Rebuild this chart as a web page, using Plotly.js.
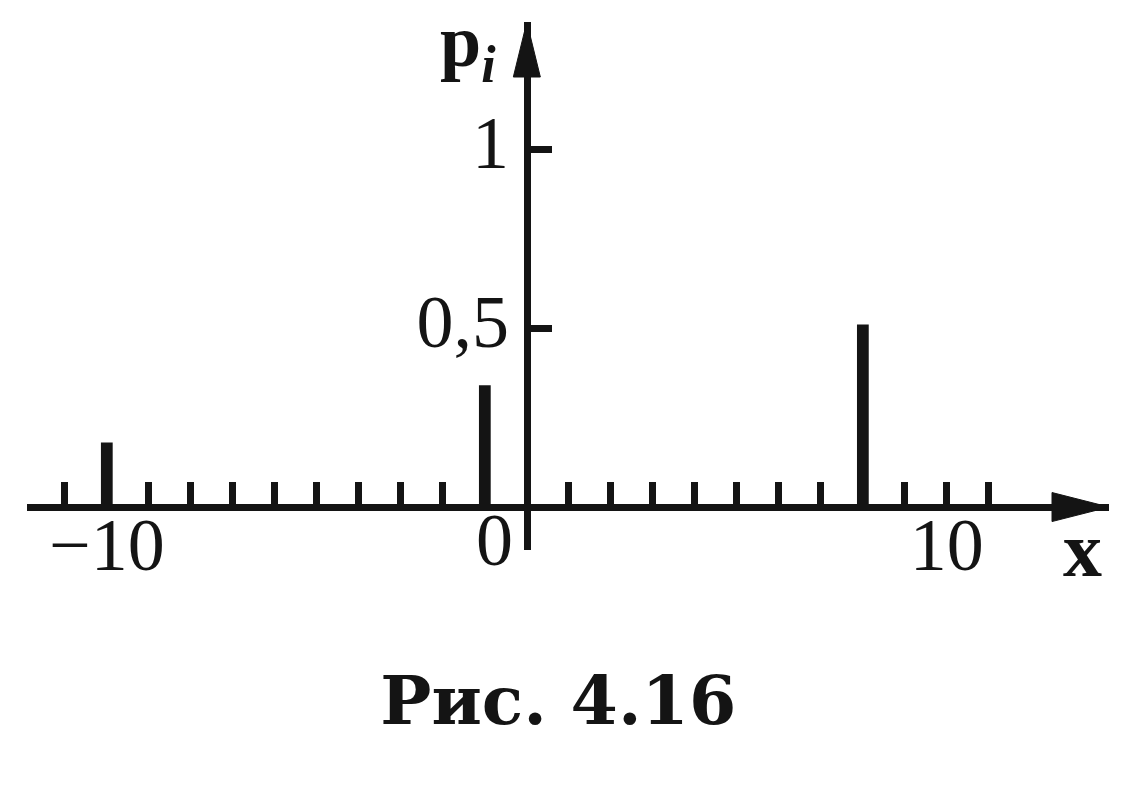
<!DOCTYPE html>
<html>
<head>
<meta charset="utf-8">
<script src="https://cdn.plot.ly/plotly-3.0.1.min.js"></script>
<style>
  html, body { margin: 0; padding: 0; background: #fff; }
  #chart { width: 1144px; height: 808px; }
</style>
</head>
<body>
<div id="chart"></div>
<script>
// values of the random variable and their probabilities
let xValues = [-10, -1, 8];
let probs = [0.18, 0.34, 0.51];

// labelled ticks
let xTickVals = [-10, 10];
let xTickText = ["\u221210", "10"];
let yTickVals = [0.5, 1];
let yTickText = ["0,5", "1"];
// unit marks along the x axis
let xUnitTicks = [-11, -9, -8, -7, -6, -5, -4, -3, -2, -1, 1, 2, 3, 4, 5, 6, 7, 8, 9, 11];

let xRange = [-11.9, 13.86];
let yRange = [-0.12, 1.355];

let ink = "#141414";
let serif = "Liberation Serif, Times New Roman, serif";
let slab = "DejaVu Serif, serif";

let trace1 = {
	type: "bar",
	x: xValues,
	y: probs,
	width: 0.28,
	marker: {color: ink, line: {width: 0}},
	hoverinfo: "x+y"
};

let xPos = (0 - yRange[0]) / (yRange[1] - yRange[0]);
let yPos = (0 - xRange[0]) / (xRange[1] - xRange[0]);

let layout = {
	width: 1144,
	height: 808,
	margin: {l: 27, r: 35, t: 22, b: 258},
	paper_bgcolor: "#fff",
	plot_bgcolor: "#fff",
	showlegend: false,
	title: {
		text: "<b>Рис.\u00a04.16</b>",
		font: {family: slab, size: 68, color: ink},
		x: 0.488, xref: "container", xanchor: "center",
		y: 0.134, yref: "container", yanchor: "middle"
	},
	xaxis: {
		range: xRange,
		anchor: "free",
		position: xPos,
		showgrid: false,
		zeroline: false,
		showline: true,
		linecolor: ink,
		linewidth: 7,
		tickmode: "array",
		tickvals: xTickVals,
		ticktext: xTickText,
		ticks: "inside",
		ticklen: 22,
		tickwidth: 7,
		tickcolor: ink,
		ticklabelstandoff: -30,
		tickfont: {family: serif, size: 74, color: ink},
		minor: {
			tickmode: "array", tickvals: xUnitTicks,
			ticks: "inside", ticklen: 22, tickwidth: 7, tickcolor: ink,
			showgrid: false
		},
		fixedrange: true
	},
	yaxis: {
		range: yRange,
		anchor: "free",
		position: yPos,
		showgrid: false,
		zeroline: false,
		showline: true,
		linecolor: ink,
		linewidth: 7,
		tickmode: "array",
		tickvals: yTickVals,
		ticktext: yTickText,
		ticks: "inside",
		ticklen: 21,
		tickwidth: 7,
		tickcolor: ink,
		ticklabelshift: -7,
		tickfont: {family: serif, size: 74, color: ink},
		fixedrange: true
	},
	shapes: [
		{ // arrow on x axis
			type: "path", xref: "x", yref: "y",
			xsizemode: "pixel", ysizemode: "pixel",
			xanchor: xRange[1], yanchor: 0,
			path: "M -57,-14.5 L 0,0 L -57,14.5 Z",
			fillcolor: ink, line: {color: ink, width: 1}
		},
		{ // arrow on y axis
			type: "path", xref: "x", yref: "y",
			xsizemode: "pixel", ysizemode: "pixel",
			xanchor: 0, yanchor: yRange[1],
			path: "M -13.5,-55 L 0,0 L 13.5,-55 Z",
			fillcolor: ink, line: {color: ink, width: 1}
		}
	],
	annotations: [
		{
			text: "0", x: 0, y: 0, xref: "x", yref: "y",
			xanchor: "right", yanchor: "top", xshift: -12, yshift: 10,
			showarrow: false, font: {family: serif, size: 74, color: ink}
		},
		{
			text: "<b>x</b>", x: xRange[1], y: 0, xref: "x", yref: "y",
			xanchor: "center", yanchor: "middle", xshift: -27, yshift: -42,
			showarrow: false, font: {family: serif, size: 78, color: ink}
		},
		{
			text: "<b>p</b><sub><b><i>i</i></b></sub>", x: 0, y: yRange[1], xref: "x", yref: "y",
			xanchor: "center", yanchor: "top", xshift: -59, yshift: 24,
			showarrow: false, font: {family: serif, size: 74, color: ink}
		}
	]
};

Plotly.newPlot("chart", [trace1], layout, {displayModeBar: false, staticPlot: true});
</script>
</body>
</html>
